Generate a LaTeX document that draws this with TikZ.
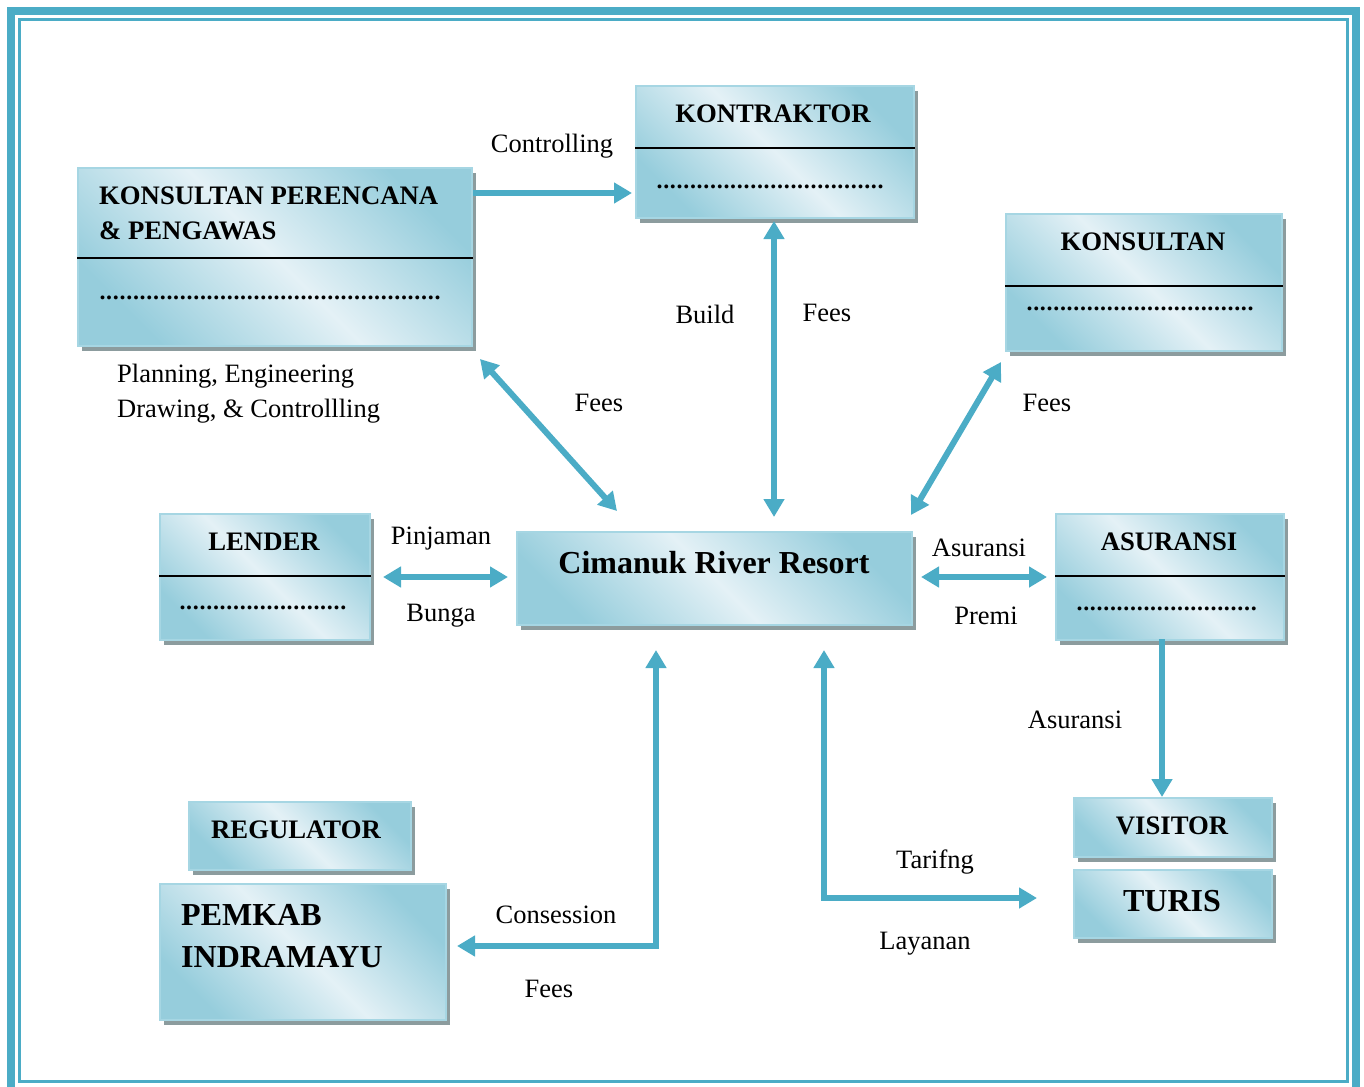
\documentclass[tikz,border=0pt]{standalone}
\usepackage{fontspec}
\setmainfont{Liberation Serif}
\usetikzlibrary{arrows.meta,calc,shadows}
\definecolor{arrowc}{HTML}{4BACC6}
\definecolor{boxdark}{HTML}{96CDDC}
\definecolor{boxlight}{HTML}{E4F1F6}
\definecolor{boxedge}{HTML}{A6D6E3}
\definecolor{shadowc}{HTML}{8C9C9E}
\newcommand\dotrow[1]{\hbox to #1{\leaders\hbox to 6.7pt{\hss\textbf{.}\hss}\hfill}}
\tikzset{
  box/.style={draw=boxedge, line width=2pt, top color=boxdark, bottom color=boxdark,
    middle color=boxlight, shading angle=-45, anchor=north west, inner sep=0pt,
    general shadow={fill=shadowc, shadow xshift=4pt, shadow yshift=-5pt}},
  title/.style={font=\fontsize{26.7}{35}\selectfont\bfseries, inner sep=0pt},
  bigtitle/.style={font=\fontsize{32}{42}\selectfont\bfseries, inner sep=0pt},
  lbl/.style={font=\fontsize{26.5}{35}\selectfont, inner sep=0pt, yshift=-3pt},
  dotsrow/.style={font=\fontsize{24}{30}\selectfont\bfseries, inner sep=0pt, anchor=west},
  divider/.style={line width=2pt, black},
  arr/.style={draw=arrowc, line width=6pt, -{Triangle[length=18pt,width=20pt]}},
  arrb/.style={draw=arrowc, line width=6pt, {Triangle[length=18pt,width=20pt]}-{Triangle[length=18pt,width=20pt]}},
}
\begin{document}
\begin{tikzpicture}[x=1pt,y=-1pt]
\useasboundingbox (0,0) rectangle (1364,1086);
% frame
\draw[arrowc, line width=8pt] (11,11) rectangle (1356,1095);
\draw[arrowc, line width=3pt] (19.5,19.5) rectangle (1347,1081);

% boxes
\node[box, minimum width=394pt, minimum height=178pt] (kp) at (77,167) {};
\node[box, minimum width=278pt, minimum height=132pt] (kt) at (635,85) {};
\node[box, minimum width=276pt, minimum height=137pt] (ks) at (1005,213) {};
\node[box, minimum width=210pt, minimum height=126pt] (ld) at (159,513) {};
\node[box, minimum width=395pt, minimum height=93pt] (cr) at (516,531) {};
\node[box, minimum width=228pt, minimum height=126pt] (as) at (1055,513) {};
\node[box, minimum width=198pt, minimum height=59pt] (vs) at (1073,797) {};
\node[box, minimum width=198pt, minimum height=68pt] (tr) at (1073,869) {};
\node[box, minimum width=222pt, minimum height=68pt] (rg) at (188,801) {};
\node[box, minimum width=286pt, minimum height=136pt] (pk) at (159,883) {};

% dividers
\draw[divider] ($(kp.north west)+(0,91)$) -- ($(kp.north east)+(0,91)$);
\draw[divider] ($(kt.north west)+(0,63)$) -- ($(kt.north east)+(0,63)$);
\draw[divider] ($(ks.north west)+(0,73)$) -- ($(ks.north east)+(0,73)$);
\draw[divider] ($(ld.north west)+(0,63)$) -- ($(ld.north east)+(0,63)$);
\draw[divider] ($(as.north west)+(0,63)$) -- ($(as.north east)+(0,63)$);

% titles
\node[title, anchor=west, align=left] (kpt) at (99,213) {KONSULTAN PERENCANA\\\& PENGAWAS};
\node[title] (ktt) at (773,114) {KONTRAKTOR};
\node[title] (kst) at (1143,242) {KONSULTAN};
\node[title] (ldt) at (264,542) {LENDER};
\node[bigtitle] (crt) at (714,563) {Cimanuk River Resort};
\node[title] (ast) at (1169,542) {ASURANSI};
\node[title] (vst) at (1172,826) {VISITOR};
\node[bigtitle] (trt) at (1172,901) {TURIS};
\node[title] (rgt) at (296,830) {REGULATOR};
\node[bigtitle, anchor=west, align=left] (pkt) at (181,936) {PEMKAB\\INDRAMAYU};

% dotted rows
\node[dotsrow] (kpd) at (99,298) {\dotrow{346pt}};
\node[dotsrow] (ktd) at (656,187) {\dotrow{234pt}};
\node[dotsrow] (ksd) at (1026,309) {\dotrow{229pt}};
\node[dotsrow] (ldd) at (179,608) {\dotrow{170pt}};
\node[dotsrow] (asd) at (1076,609) {\dotrow{182pt}};

% connectors
\draw[arr] ($(kp.north east)+(0,26)$) -- ($(kt.north west)+(-3,108)$);
\draw[arrb] ($(kt.south)+(-1,2)$) -- ($(kt.south |- cr.north)+(-1,-14)$);
\draw[arrb] ($(kp.south east)+(7,12)$) -- ($(cr.north west)+(101,-20)$);
\draw[arrb] ($(ks.south west)+(-4,10)$) -- ($(cr.north east)+(-2,-16)$);
\draw[arrb] ($(ld.east)+(12,0)$) -- ($(cr.west |- ld.east)+(-8,0)$);
\draw[arrb] ($(cr.east |- as.west)+(8,0)$) -- ($(as.west)+(-8,0)$);
\draw[arr] ($(as.south west)+(107,-2)$) -- ($(vs.north west)+(89,0)$);
\draw[arrb] ($(cr.south west)+(140,24)$) |- ($(pk.north east)+(10,63)$);
\draw[arrb] ($(cr.south west)+(308,24)$) |- ($(tr.west)+(-36,-6)$);

% labels
\node[lbl] (l1) at (552,143) {Controlling};
\node[lbl] (l2) at (705,311) {Build};
\node[lbl] (l3) at (827,310) {Fees};
\node[lbl, anchor=west, align=left] (l4) at (117,391) {Planning, Engineering\\Drawing, \& Controllling};
\node[lbl] (l5) at (599,400) {Fees};
\node[lbl] (l6) at (1047,400) {Fees};
\node[lbl] (l7) at (441,536) {Pinjaman};
\node[lbl] (l8) at (441,613) {Bunga};
\node[lbl] (l9) at (979,545) {Asuransi};
\node[lbl] (l10) at (986,613) {Premi};
\node[lbl] (l11) at (1075,717) {Asuransi};
\node[lbl] (l12) at (935,859) {Tarifng};
\node[lbl] (l13) at (925,941) {Layanan};
\node[lbl] (l14) at (556,912) {Consession};
\node[lbl] (l15) at (549,986) {Fees};
\end{tikzpicture}
\end{document}
